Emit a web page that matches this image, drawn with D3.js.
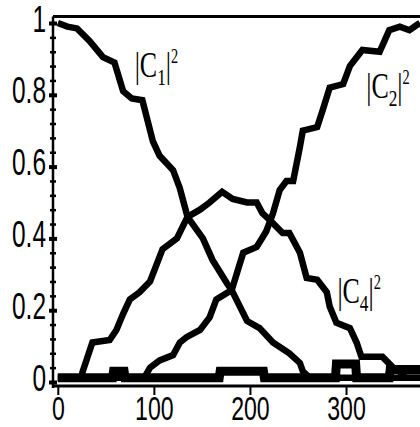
<!DOCTYPE html>
<html>
<head>
<meta charset="utf-8">
<script src="https://cdn.jsdelivr.net/npm/d3@7"></script>
<style>
  body { margin: 0; background: #fff; }
  svg { display: block; }
</style>
</head>
<body>
<script>
// chart size
var w = 420, h = 427;

// |C1|^2 over time
var c1T = [0, 10, 20, 33, 47, 59, 68, 77, 88, 99, 106, 113, 120, 127, 135, 151, 161, 176, 181, 197, 210, 224, 241, 252, 255, 262, 377];
var c1V = [1.0, 0.99, 0.985, 0.95, 0.905, 0.89, 0.81, 0.79, 0.785, 0.67, 0.63, 0.61, 0.59, 0.54, 0.46, 0.40, 0.34, 0.275, 0.256, 0.17, 0.15, 0.11, 0.08, 0.053, 0.03, 0.012, 0.012];

// |C2|^2 over time
var c2T = [0, 90, 96, 106, 120, 127, 134, 148, 158, 165, 181, 193, 207, 217, 224, 231, 238, 245, 252, 255, 270, 276, 283, 297, 304, 317, 335, 345, 356, 366, 374, 377];
var c2V = [0.012, 0.012, 0.04, 0.06, 0.075, 0.11, 0.125, 0.145, 0.18, 0.23, 0.256, 0.36, 0.376, 0.42, 0.47, 0.535, 0.56, 0.56, 0.655, 0.70, 0.71, 0.76, 0.82, 0.83, 0.88, 0.925, 0.92, 0.98, 0.99, 0.98, 0.995, 1.0];

// |C4|^2 over time
var c4T = [0, 24, 26, 36, 54, 61, 68, 75, 85, 96, 109, 124, 135, 148, 158, 171, 182, 197, 207, 213, 221, 234, 241, 252, 259, 270, 280, 283, 290, 304, 311, 316, 338, 349, 356, 362, 377];
var c4V = [0.012, 0.012, 0.03, 0.11, 0.117, 0.145, 0.19, 0.23, 0.25, 0.28, 0.37, 0.40, 0.46, 0.48, 0.50, 0.53, 0.51, 0.50, 0.50, 0.47, 0.45, 0.415, 0.415, 0.36, 0.29, 0.285, 0.25, 0.21, 0.165, 0.15, 0.11, 0.07, 0.07, 0.04, 0.028, 0.012, 0.012];

// the remaining small components lying along zero
var restT = [0, 57, 58, 69, 70, 168, 169, 214, 215, 289, 290, 310, 311, 345, 346, 377];
var restV = [0.012, 0.012, 0.03, 0.03, 0.012, 0.012, 0.03, 0.03, 0.012, 0.012, 0.05, 0.05, 0.012, 0.012, 0.035, 0.035];

// ticks
var xTicks = [0, 100, 200, 300];
var yMajor = [0, 0.2, 0.4, 0.6, 0.8, 1];
var yMinor = d3.range(0, 1.001, 0.04);
var yTop = 1.018;

// curve labels: subscript, anchor in data units
var labNames = ["1", "2", "4"];
var labT = [80, 321, 291];
var labV = [0.85, 0.79, 0.22];

window.onload = function(){
  var svg = d3.select("body").append("svg")
    .attr("width", w)
    .attr("height", h)
    .style("background", "#fff");

  // scales
  var x = d3.scaleLinear().domain([-5, 377]).range([53, 420]);
  var y = d3.scaleLinear().domain([0, 1]).range([382, 23]);

  var line = d3.line()
    .x(function(d){ return x(d[0]); })
    .y(function(d){ return y(d[1]); });

  function pairs(t, v){
    return t.map(function(d, i){ return [d, v[i]]; });
  }

  // frame top line
  svg.append("line")
    .attr("x1", x(-5)).attr("x2", w)
    .attr("y1", y(yTop)).attr("y2", y(yTop))
    .attr("stroke", "#000").attr("stroke-width", 3);

  // curves
  var series = [pairs(restT, restV), pairs(c1T, c1V), pairs(c2T, c2V), pairs(c4T, c4V)];
  var widths = [9, 6.5, 6.5, 6.5];
  svg.selectAll(".curve")
    .data(series)
    .enter()
    .append("path")
    .attr("class", "curve")
    .attr("d", line)
    .attr("fill", "none")
    .attr("stroke", "#000")
    .attr("stroke-linejoin", "miter")
    .attr("stroke-width", function(d, i){ return widths[i]; });

  var tickFont = "'Liberation Sans', Arial, sans-serif";

  // x axis
  var xAxis = d3.axisBottom(x).tickValues(xTicks).tickSize(9).tickSizeOuter(0).tickFormat(d3.format("d"));
  var gx = svg.append("g")
    .attr("transform", "translate(0," + (y(0) + 4) + ")")
    .call(xAxis);
  gx.select(".domain").remove();
  gx.selectAll("line").attr("stroke", "#000").attr("stroke-width", 2);
  gx.append("line")
    .attr("x1", x(-5) - 1).attr("x2", w)
    .attr("stroke", "#000").attr("stroke-width", 3);
  gx.selectAll("text")
    .attr("y", null).attr("dy", null)
    .attr("transform", "translate(0,34) scale(0.68,1)")
    .style("font-family", tickFont)
    .style("font-size", "34px")
    .attr("fill", "#000");

  // y axis: minor ticks as small crosses, majors a bit larger
  var yAxis = d3.axisLeft(y).tickValues(yMinor).tickSize(0).tickFormat("");
  var gy = svg.append("g")
    .attr("transform", "translate(" + x(-5) + ",0)")
    .call(yAxis);
  gy.select(".domain").remove();
  gy.selectAll(".tick line")
    .attr("x1", -3).attr("x2", 3)
    .attr("stroke", "#000").attr("stroke-width", 2.5);
  gy.append("line")
    .attr("y1", y(yTop)).attr("y2", y(0) + 6)
    .attr("stroke", "#000").attr("stroke-width", 2.5);

  var yLab = d3.axisLeft(y).tickValues(yMajor).tickSize(0).tickFormat(function(d){ return d === 0 || d === 1 ? d : d.toFixed(1); });
  var gl = svg.append("g")
    .attr("transform", "translate(" + x(-5) + ",0)")
    .call(yLab);
  gl.select(".domain").remove();
  gl.selectAll(".tick line").remove();
  gl.selectAll(".tick").append("rect")
    .attr("x", -4).attr("y", -2).attr("width", 8).attr("height", 4)
    .attr("fill", "#000");
  gl.selectAll("text")
    .attr("x", null).attr("dy", null)
    .attr("transform", "translate(-7,8) scale(0.68,1)")
    .style("font-family", tickFont)
    .style("font-size", "36px")
    .attr("fill", "#000");

  // curve labels |C_n|^2
  var labs = svg.selectAll(".lab")
    .data(labNames)
    .enter()
    .append("text")
    .attr("class", "lab")
    .attr("transform", function(d, i){
      return "translate(" + x(labT[i]) + "," + y(labV[i]) + ") scale(0.72,1)";
    })
    .style("font-family", "'Liberation Serif', 'Times New Roman', serif")
    .style("font-size", "36px")
    .attr("fill", "#000");
  labs.append("tspan").text("|C");
  labs.append("tspan").attr("dy", 8).style("font-size", "24px").text(function(d){ return d; });
  labs.append("tspan").attr("dy", -8).text("|");
  labs.append("tspan").attr("dy", -14).style("font-size", "20px").text("2");
};
</script>
</body>
</html>
